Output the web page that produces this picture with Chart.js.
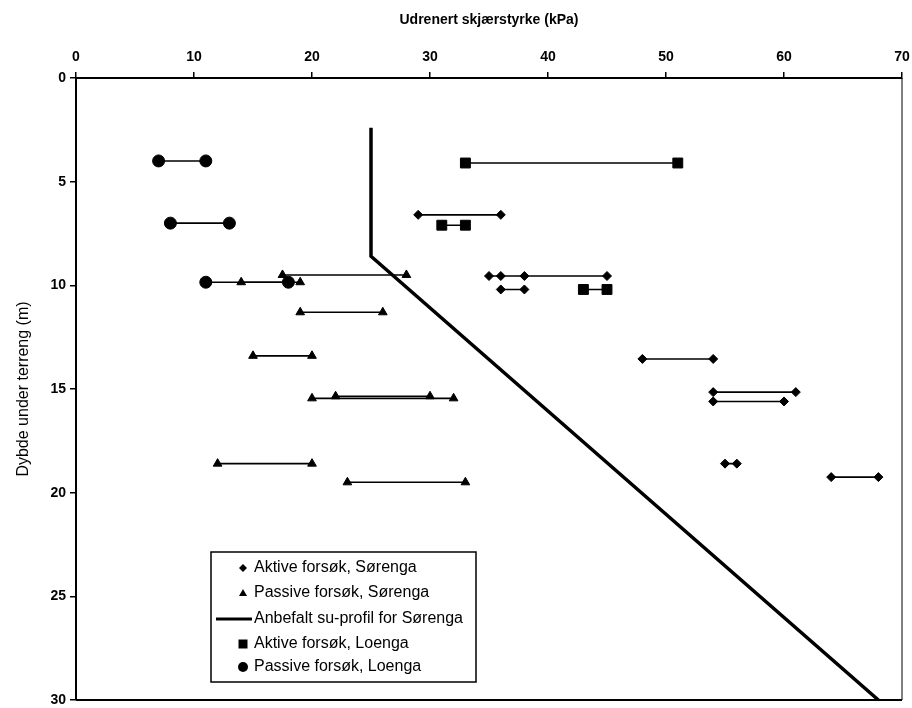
<!DOCTYPE html>
<html>
<head>
<meta charset="utf-8">
<script src="https://cdn.jsdelivr.net/npm/chart.js@4/dist/chart.umd.min.js"></script>
<style>
  body { margin: 0; background: #fff; }
  canvas { display: block; }
</style>
</head>
<body>
<canvas id="suChart" width="912" height="708"></canvas>
<script>
// su-verdier (kPa) parvis, og dybde (m) for hvert par
const aktivSorengaSu = [[29, 36], [35, 38], [36, 45], [36, 38], [48, 54], [54, 61], [54, 60], [55, 56], [64, 68]];
const aktivSorengaDybde = [6.6, 9.55, 9.55, 10.2, 13.55, 15.15, 15.6, 18.6, 19.25];

const passivSorengaSu = [[17.5, 28], [14, 19], [19, 26], [15, 20], [20, 32], [22, 30], [12, 20], [23, 33]];
const passivSorengaDybde = [9.5, 9.85, 11.3, 13.4, 15.45, 15.35, 18.6, 19.5];

const aktivLoengaSu = [[33, 51], [31, 33], [43, 45]];
const aktivLoengaDybde = [4.1, 7.1, 10.2];

const passivLoengaSu = [[7, 11], [8, 13], [11, 18]];
const passivLoengaDybde = [4.0, 7.0, 9.85];

const profilSu = [25, 25, 68];
const profilDybde = [2.4, 8.6, 30];

const xTicks = [0, 10, 20, 30, 40, 50, 60, 70];
const yTicks = [0, 5, 10, 15, 20, 25, 30];

const legendLabels = [
  "Aktive forsøk, Sørenga",
  "Passive forsøk, Sørenga",
  "Anbefalt su-profil for Sørenga",
  "Aktive forsøk, Loenga",
  "Passive forsøk, Loenga"
];

function pairsToPoints(pairs, depths) {
  const points = [];
  pairs.forEach((pair, i) => {
    points.push({ x: pair[0], y: depths[i] });
    points.push({ x: pair[1], y: depths[i] });
    points.push({ x: null, y: null });
  });
  return points;
}

function seriesDataset(label, points, style, radius) {
  return {
    label,
    data: points,
    showLine: true,
    spanGaps: false,
    borderColor: "#000",
    borderWidth: 1.6,
    pointStyle: style,
    pointRadius: radius,
    pointHoverRadius: radius,
    pointBackgroundColor: "#000",
    pointBorderColor: "#000",
    pointBorderWidth: 1
  };
}

const frameAndLegend = {
  id: "frameAndLegend",
  afterDraw(chart) {
    const ctx = chart.ctx;
    const a = chart.chartArea;
    ctx.save();
    ctx.strokeStyle = "#000";
    ctx.lineWidth = 2;
    ctx.beginPath();
    ctx.moveTo(a.left, a.bottom);
    ctx.lineTo(a.right, a.bottom);
    ctx.stroke();
    ctx.lineWidth = 1;
    ctx.beginPath();
    ctx.moveTo(a.right, a.top);
    ctx.lineTo(a.right, a.bottom);
    ctx.stroke();

    // legend box
    const bx = 211, by = 552, bw = 265, bh = 130;
    ctx.fillStyle = "#fff";
    ctx.fillRect(bx, by, bw, bh);
    ctx.lineWidth = 1.5;
    ctx.strokeRect(bx, by, bw, bh);

    const rows = [568, 593, 619, 644, 667];
    const mx = 243;
    ctx.fillStyle = "#000";
    rows.forEach((ry, i) => {
      ctx.beginPath();
      if (i === 0) {
        ctx.moveTo(mx, ry - 4); ctx.lineTo(mx + 4, ry); ctx.lineTo(mx, ry + 4); ctx.lineTo(mx - 4, ry);
        ctx.closePath(); ctx.fill();
      } else if (i === 1) {
        ctx.moveTo(mx, ry - 4); ctx.lineTo(mx + 4, ry + 3); ctx.lineTo(mx - 4, ry + 3);
        ctx.closePath(); ctx.fill();
      } else if (i === 2) {
        ctx.lineWidth = 3;
        ctx.moveTo(216, ry); ctx.lineTo(252, ry); ctx.stroke();
      } else if (i === 3) {
        ctx.rect(mx - 4.5, ry - 4.5, 9, 9); ctx.fill();
      } else {
        ctx.arc(mx, ry, 5, 0, Math.PI * 2); ctx.fill();
      }
    });
    ctx.font = "16px 'Liberation Sans', Arial, sans-serif";
    ctx.textBaseline = "middle";
    ctx.textAlign = "left";
    legendLabels.forEach((text, i) => {
      ctx.fillText(text, 254, rows[i]);
    });
    ctx.restore();
  }
};

const ctx = document.getElementById("suChart").getContext("2d");

new Chart(ctx, {
  type: "scatter",
  data: {
    datasets: [
      seriesDataset(legendLabels[0], pairsToPoints(aktivSorengaSu, aktivSorengaDybde), "rectRot", 4.5),
      seriesDataset(legendLabels[1], pairsToPoints(passivSorengaSu, passivSorengaDybde), "triangle", 5),
      {
        label: legendLabels[2],
        data: profilSu.map((su, i) => ({ x: su, y: profilDybde[i] })),
        showLine: true,
        borderColor: "#000",
        borderWidth: 3.5,
        pointRadius: 0,
        tension: 0
      },
      seriesDataset(legendLabels[3], pairsToPoints(aktivLoengaSu, aktivLoengaDybde), "rect", 7),
      seriesDataset(legendLabels[4], pairsToPoints(passivLoengaSu, passivLoengaDybde), "circle", 6)
    ]
  },
  options: {
    responsive: false,
    animation: false,
    devicePixelRatio: 1,
    layout: { padding: { left: 0, right: 10, top: 0, bottom: 8 } },
    plugins: {
      legend: { display: false },
      tooltip: { enabled: false }
    },
    scales: {
      x: {
        type: "linear",
        position: "top",
        min: 0,
        max: 70,
        afterFit: scale => {
          scale.height = 78;
          scale.paddingLeft = 0;
          scale.paddingRight = 0;
        },
        afterBuildTicks: scale => { scale.ticks = xTicks.map(v => ({ value: v })); },
        title: {
          display: true,
          text: "Udrenert skjærstyrke (kPa)",
          color: "#000",
          font: { family: "'Liberation Sans', Arial, sans-serif", size: 14, weight: "bold" },
          padding: { top: 12, bottom: 0 }
        },
        ticks: {
          color: "#000",
          padding: 6,
          font: { family: "'Liberation Sans', Arial, sans-serif", size: 14, weight: "bold" }
        },
        grid: { drawOnChartArea: false, color: "#000", tickLength: 6, lineWidth: 1.5 },
        border: { color: "#000", width: 2 }
      },
      y: {
        type: "linear",
        reverse: true,
        min: 0,
        max: 30,
        afterFit: scale => {
          scale.width = 76;
          scale.paddingTop = 0;
          scale.paddingBottom = 0;
        },
        afterBuildTicks: scale => { scale.ticks = yTicks.map(v => ({ value: v })); },
        title: {
          display: true,
          text: "Dybde under terreng (m)",
          color: "#000",
          font: { family: "'Liberation Sans', Arial, sans-serif", size: 16 },
          padding: { top: 14, bottom: 0 }
        },
        ticks: {
          color: "#000",
          padding: 4,
          font: { family: "'Liberation Sans', Arial, sans-serif", size: 14, weight: "bold" }
        },
        grid: { drawOnChartArea: false, color: "#000", tickLength: 6, lineWidth: 1.5 },
        border: { color: "#000", width: 2 }
      }
    }
  },
  plugins: [frameAndLegend]
});
</script>
</body>
</html>
